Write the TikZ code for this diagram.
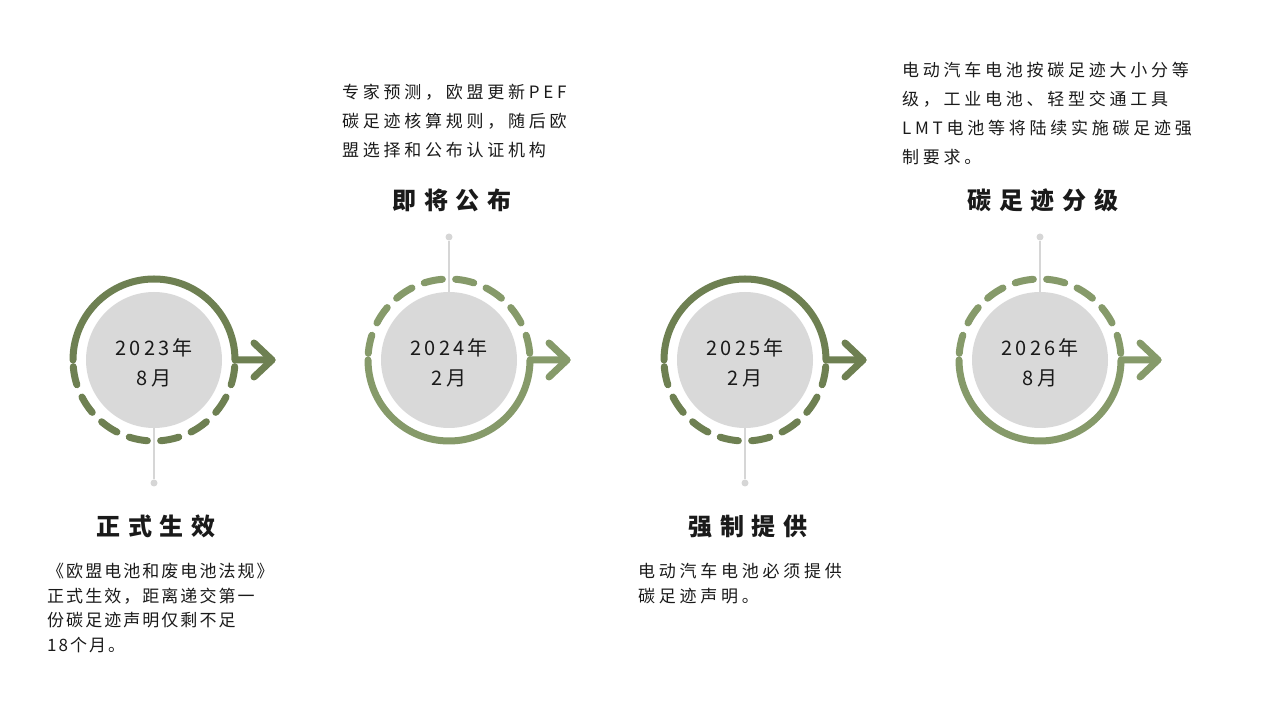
\documentclass[tikz,border=0pt]{standalone}
\usepackage{fontspec}
\setmainfont{Noto Sans CJK SC}
\newfontfamily\yearfont[LetterSpace=16]{Noto Sans CJK SC}
\newfontfamily\headfont[LetterSpace=32]{Noto Sans CJK SC}
\newfontfamily\descfont[LetterSpace=22]{Noto Sans CJK SC}
\newfontfamily\descfontA[LetterSpace=12]{Noto Sans CJK SC}
\usepackage{tikz}
\definecolor{ringdark}{HTML}{6E8052}
\definecolor{ringlight}{HTML}{869A6A}
\definecolor{diskgray}{HTML}{D9D9D9}
\definecolor{stemgray}{HTML}{D6D6D6}
\definecolor{inkblack}{HTML}{1A1A1A}

\begin{document}
\begin{tikzpicture}[
  x=1pt, y=1pt,
  disk/.style={circle, fill=diskgray, minimum size=136pt, inner sep=0pt},
  yeartext/.style={align=center, text=inkblack, font=\yearfont\fontsize{20}{30}\selectfont},
  ring/.style={draw=#1, line width=7pt, line cap=round, line join=round},
  dashring/.style={ring=#1, dash pattern=on 18.5pt off 13.31pt, dash phase=25.15pt},
  stem/.style={draw=stemgray, line width=2pt},
  pin/.style={circle, fill=stemgray, minimum size=7pt, inner sep=0pt},
  head/.style={anchor=base, text=inkblack, font=\headfont\bfseries\fontsize{24}{28}\selectfont},
  desctop/.style={align=left, anchor=north west, inner sep=0pt, text=inkblack,
                  font=\descfont\fontsize{17}{29}\selectfont},
  descbot/.style={align=left, anchor=north west, inner sep=0pt, text=inkblack,
                  font=\descfont\fontsize{17}{25}\selectfont},
]
  \useasboundingbox (0,0) rectangle (1280,720);

  % --- 2023 ------------------------------------------------------
  \node[disk] (d1) at (154,360) {};
  \node[yeartext] (y1) at (154,357) {2023年\\8月};
  \node[pin] (p1) at (154,237) {};
  \coordinate (a1) at (272,360);
  \draw[stem] (d1.south) -- (p1);
  \draw[ring=ringdark] (d1.center) ++(180:81) arc[start angle=180, end angle=0, radius=81] -- (a1);
  \draw[ring=ringdark] ([shift={(-18,17)}]a1) -- (a1) -- ([shift={(-18,-17)}]a1);
  \draw[dashring=ringdark] (d1.center) ++(180:81) arc[start angle=180, end angle=360, radius=81];

  % --- 2024 ------------------------------------------------------
  \node[disk] (d2) at (449,360) {};
  \node[yeartext] (y2) at (449,357) {2024年\\2月};
  \node[pin] (p2) at (449,483) {};
  \coordinate (a2) at (567,360);
  \draw[stem] (d2.north) -- (p2);
  \draw[ring=ringlight] (d2.center) ++(180:81) arc[start angle=180, end angle=360, radius=81] -- (a2);
  \draw[ring=ringlight] ([shift={(-18,17)}]a2) -- (a2) -- ([shift={(-18,-17)}]a2);
  \draw[dashring=ringlight] (d2.center) ++(180:81) arc[start angle=180, end angle=0, radius=81];

  % --- 2025 ------------------------------------------------------
  \node[disk] (d3) at (745,360) {};
  \node[yeartext] (y3) at (745,357) {2025年\\2月};
  \node[pin] (p3) at (745,237) {};
  \coordinate (a3) at (863,360);
  \draw[stem] (d3.south) -- (p3);
  \draw[ring=ringdark] (d3.center) ++(180:81) arc[start angle=180, end angle=0, radius=81] -- (a3);
  \draw[ring=ringdark] ([shift={(-18,17)}]a3) -- (a3) -- ([shift={(-18,-17)}]a3);
  \draw[dashring=ringdark] (d3.center) ++(180:81) arc[start angle=180, end angle=360, radius=81];

  % --- 2026 ------------------------------------------------------
  \node[disk] (d4) at (1040,360) {};
  \node[yeartext] (y4) at (1040,357) {2026年\\8月};
  \node[pin] (p4) at (1040,483) {};
  \coordinate (a4) at (1158,360);
  \draw[stem] (d4.north) -- (p4);
  \draw[ring=ringlight] (d4.center) ++(180:81) arc[start angle=180, end angle=360, radius=81] -- (a4);
  \draw[ring=ringlight] ([shift={(-18,17)}]a4) -- (a4) -- ([shift={(-18,-17)}]a4);
  \draw[dashring=ringlight] (d4.center) ++(180:81) arc[start angle=180, end angle=0, radius=81];

  % --- headings --------------------------------------------------
  \node[head] (h1) at (156,184) {正式生效};
  \node[head] (h2) at (452,510) {即将公布};
  \node[head] (h3) at (748,184) {强制提供};
  \node[head] (h4) at (1043,510) {碳足迹分级};

  % --- notes -----------------------------------------------------
  \node[descbot, font=\descfontA\fontsize{17}{24.5}\selectfont] (n1) at (47,157)
    {《欧盟电池和废电池法规》\\正式生效，距离递交第一\\份碳足迹声明仅剩不足\\18个月。};
  \node[desctop] (n2) at (342,636)
    {专家预测，欧盟更新PEF\\碳足迹核算规则，随后欧\\盟选择和公布认证机构};
  \node[descbot] (n3) at (638,157)
    {电动汽车电池必须提供\\碳足迹声明。};
  \node[desctop] (n4) at (902,658)
    {电动汽车电池按碳足迹大小分等\\级，工业电池、轻型交通工具\\LMT电池等将陆续实施碳足迹强\\制要求。};
\end{tikzpicture}
\end{document}
